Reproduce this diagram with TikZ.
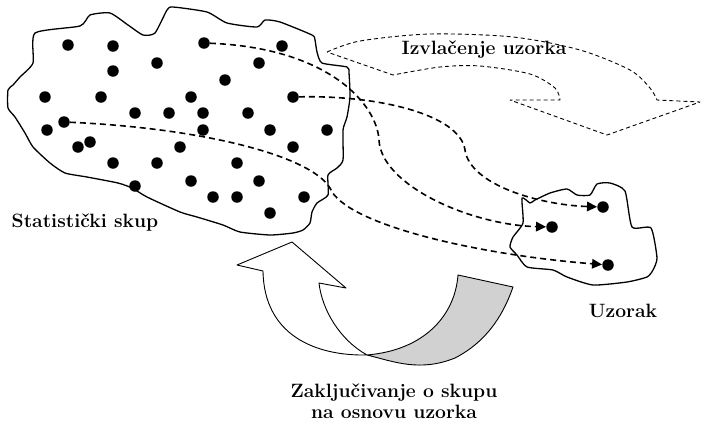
\documentclass[tikz,border=0pt]{standalone}
\usepackage{fontspec}
\usetikzlibrary{arrows.meta}
\begin{document}
\begin{tikzpicture}[x=1pt,y=-1pt,
  dot/.style={circle,fill=black,inner sep=0pt,minimum size=11.5pt},
  blob/.style={line width=1.3pt,line join=round},
  conn/.style={line width=1.6pt,dash pattern=on 6pt off 4pt,-{Triangle[length=10pt,width=9.5pt]}},
  bigdash/.style={line width=0.9pt,dash pattern=on 4pt off 3pt,line join=round},
  ribbon/.style={line width=0.9pt,line join=round},
  lbl/.style={font=\bfseries\fontsize{19.3}{21}\selectfont,inner sep=0pt}]
\path[use as bounding box] (0,0) rectangle (704,424);

% population outline
\draw[blob] plot[smooth cycle,tension=0.35] coordinates {
(35,33) (80,26) (90,15) (110,13) (128,25) (143,35) (155,33) (167,10) (173,7)
(207,12) (227,23) (257,27) (265,20) (280,22) (312,35) (315,40) (317,52) (322,63)
(347,67) (349,73) (350,97) (347,117) (343,130) (343,160) (337,168) (328,175)
(328,195) (317,203) (312,212) (310,223) (303,230) (293,233) (270,235) (240,232)
(223,225) (197,217) (180,212) (147,197) (132,188) (118,183) (87,177) (65,173)
(50,163) (33,147) (25,133) (15,117) (8,108) (8,90) (13,85) (20,77) (33,63)};

% sample outline
\draw[blob] plot[smooth cycle,tension=0.35] coordinates {
(522,198) (530,203) (535,200) (550,193) (567,189) (577,195) (590,195) (597,184)
(610,183) (625,191) (632,227) (651,228) (657,258) (653,270) (647,277) (627,282)
(593,285) (567,277) (553,270) (527,267) (517,255) (510,247) (513,237) (523,223)};

% dashed "Izvlacenje" arrow outline
\draw[bigdash] plot[smooth,tension=0.5] coordinates {(327,52) (360,41) (430,34) (513,37) (580,50) (630,70) (650,88) (657,100)}
  -- (700,102) -- (607,135) -- (510,100) -- (560,100)
  -- plot[smooth,tension=0.5] coordinates {(560,100) (555,88) (530,74) (480,66) (440,67) (393,75)} -- cycle;
\node[lbl] (izv) at (484,50) {Izvlačenje uzorka};

% population dots
\foreach \n/\x/\y in {1/68/45,2/113/46,3/204/43,4/282/46,5/157/63,6/113/71,7/259/63,8/225/80,
  9/45/97,10/101/97,11/191/97,12/293/97,13/135/113,14/169/113,15/203/113,16/248/113,
  17/47/130,18/64/122,19/203/130,20/270/130,21/327/130,22/90/142,23/78/147,24/180/147,
  25/293/147,26/113/163,27/157/163,28/237/163,29/191/181,30/259/181,31/135/186,
  32/213/197,33/237/197,34/304/197,35/270/213}
  \node[dot] (d\n) at (\x,\y) {};

% sample dots
\node[dot] (s1) at (603,207) {};
\node[dot] (s2) at (552,227) {};
\node[dot] (s3) at (608,265) {};

% connectors
\coordinate (ka) at (379,140);
\coordinate (kb) at (465,150);
\coordinate (kc) at (330,188);
\draw[conn] (d3) .. controls (330,48) and (377,105) .. (ka) .. controls (381,185) and (470,225) .. (s2);
\draw[conn] (d12) .. controls (380,95) and (460,115) .. (kb) .. controls (470,185) and (540,205) .. (s1);
\draw[conn] (d18) .. controls (200,128) and (310,155) .. (kc) .. controls (345,225) and (480,255) .. (s3);

% ribbon arrow: white part
\draw[ribbon,fill=white] (292,242) -- (346,288) -- (319,283)
  .. controls (322,310) and (340,340) .. (367,355)
  .. controls (315,356) and (264,335) .. (263,271)
  -- (237,265) -- cycle;
% ribbon arrow: grey part
\draw[ribbon,fill=black!18] (367,355)
  .. controls (395,362) and (420,372) .. (455,358)
  .. controls (490,340) and (505,310) .. (513,287)
  -- (458,275)
  .. controls (455,315) and (425,350) .. (367,355) -- cycle;

% labels
\node[lbl] (pop) at (85,223) {Statistički skup};
\node[lbl] (uz) at (623,311) {Uzorak};
\node[lbl,align=center] (zak) at (394,401) {Zaključivanje o skupu\\na osnovu uzorka};
\end{tikzpicture}
\end{document}
